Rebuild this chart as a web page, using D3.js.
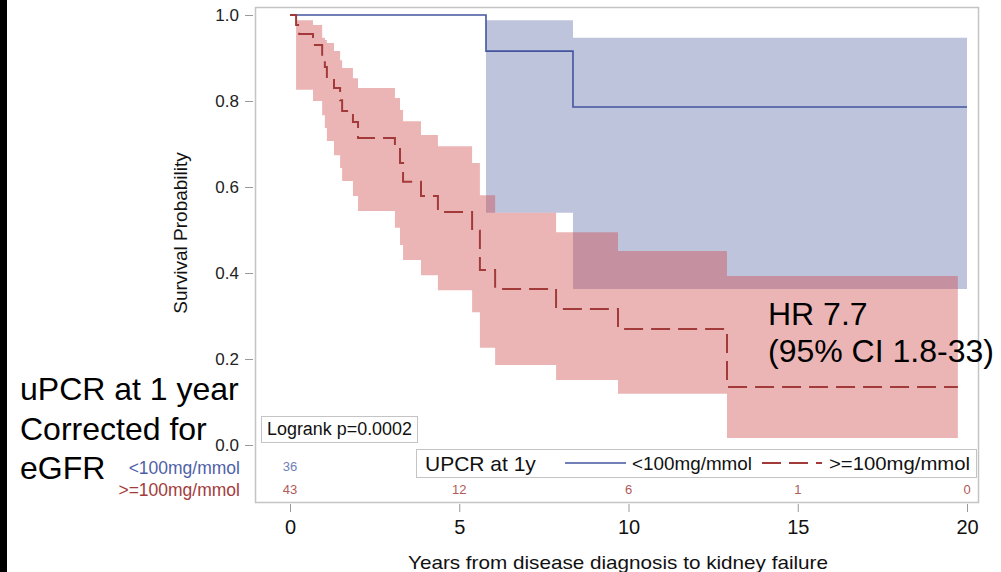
<!DOCTYPE html>
<html>
<head>
<meta charset="utf-8">
<script src="https://cdn.jsdelivr.net/npm/d3@7"></script>
<style>
body { margin: 0; background: #fff; }
svg { display: block; font-family: Arial, "Liberation Sans", sans-serif; }
</style>
</head>
<body>
<svg id="chart" width="1001" height="572"></svg>
<script>
// Kaplan-Meier steps (years, survival probability)
var blueTimes = [0, 5.79, 8.36, 20];
var blueSurv  = [1, 0.916, 0.786, 0.786];
var blueUpper = [1, 0.988, 0.947, 0.947];
var blueLower = [1, 0.540, 0.363, 0.363];

var redTimes = [0, 0.18, 0.27, 0.68, 0.95, 1.03, 1.09, 1.30, 1.48, 1.54, 1.86, 2.01,
                3.10, 3.25, 3.34, 3.87, 4.37, 5.38, 5.61, 6.06, 7.86, 9.69, 12.91, 19.73];
var redSurv  = [1, 0.977, 0.956, 0.930, 0.905, 0.879, 0.853, 0.830, 0.802, 0.777, 0.751, 0.714,
                0.691, 0.656, 0.612, 0.579, 0.542, 0.498, 0.407, 0.363, 0.316, 0.270, 0.135, 0.135];
var redUpper = [1, 0.988, 0.988, 0.977, 0.947, 0.942, 0.935, 0.916, 0.895, 0.877, 0.853, 0.830,
                0.807, 0.779, 0.753, 0.721, 0.695, 0.656, 0.581, 0.540, 0.495, 0.451, 0.393, 0.393];
var redLower = [1, 0.826, 0.826, 0.800, 0.767, 0.737, 0.707, 0.674, 0.644, 0.614, 0.579, 0.544,
                0.505, 0.465, 0.430, 0.395, 0.360, 0.309, 0.226, 0.186, 0.151, 0.119, 0.016, 0.016];

// numbers at risk
var riskYears = [0, 5, 10, 15, 20];
var blueAtRisk = ["36"];   // the rest sit under the legend box
var redAtRisk = ["43", "12", "6", "1", "0"];

var xTicks = [0, 5, 10, 15, 20];
var yTicks = [0, 0.2, 0.4, 0.6, 0.8, 1.0];

var svg = d3.select("#chart");

var x = d3.scaleLinear().domain([0, 20]).range([290, 967]);
var y = d3.scaleLinear().domain([0, 1]).range([445, 15]);

function pts(times, vals) {
    return times.map(function(t, i) { return {t: t, v: vals[i]}; });
}
function band(times, lo, hi) {
    return times.map(function(t, i) { return {t: t, lo: lo[i], hi: hi[i]}; });
}

// black strip on the left edge of the slide
svg.append("rect").attr("x", 0).attr("y", 0).attr("width", 7).attr("height", 572).attr("fill", "#000");

// frame
svg.append("rect")
    .attr("x", 255.5).attr("y", 7.5).attr("width", 723).attr("height", 495)
    .attr("fill", "#fff").attr("stroke", "#c4c4c4").attr("stroke-width", 1.5);

var area = d3.area()
    .curve(d3.curveStepAfter)
    .x(function(d) { return x(d.t); })
    .y0(function(d) { return y(d.lo); })
    .y1(function(d) { return y(d.hi); });

var line = d3.line()
    .curve(d3.curveStepAfter)
    .x(function(d) { return x(d.t); })
    .y(function(d) { return y(d.v); });

svg.append("path")
    .attr("d", area(band(blueTimes, blueLower, blueUpper)))
    .attr("fill", "#bec4dc");

svg.append("path")
    .attr("d", area(band(redTimes, redLower, redUpper)))
    .attr("fill", "rgba(207,70,70,0.4)");

svg.append("path")
    .attr("d", line(pts(blueTimes, blueSurv)))
    .attr("fill", "none").attr("stroke", "#44559f").attr("stroke-width", 1.6);

svg.append("path")
    .attr("d", line(pts(redTimes, redSurv)))
    .attr("fill", "none").attr("stroke", "#a33a3a").attr("stroke-width", 2)
    .attr("stroke-dasharray", "19,8");

// axes
var yAxis = svg.append("g")
    .attr("transform", "translate(253,0)")
    .call(d3.axisLeft(y).tickValues(yTicks).tickFormat(d3.format(".1f")).tickSize(8).tickPadding(6));
yAxis.select(".domain").remove();
yAxis.selectAll("line").attr("stroke", "#999");
yAxis.selectAll("text").attr("font-size", 17).attr("fill", "#222").attr("font-family", "Arial, 'Liberation Sans', sans-serif");

var xAxis = svg.append("g")
    .attr("transform", "translate(0,504)")
    .call(d3.axisBottom(x).tickValues(xTicks).tickSize(8).tickPadding(8));
xAxis.select(".domain").remove();
xAxis.selectAll("line").attr("stroke", "#999");
xAxis.selectAll("text").attr("font-size", 20).attr("fill", "#111").attr("font-family", "Arial, 'Liberation Sans', sans-serif");

svg.append("text")
    .attr("x", 618).attr("y", 569)
    .attr("text-anchor", "middle").attr("font-size", 19).attr("fill", "#111")
    .attr("textLength", 420).attr("lengthAdjust", "spacingAndGlyphs")
    .text("Years from disease diagnosis to kidney failure");

svg.append("text")
    .attr("transform", "translate(187,233) rotate(-90)")
    .attr("text-anchor", "middle").attr("font-size", 19).attr("fill", "#111")
    .text("Survival Probability");

// logrank box
svg.append("rect")
    .attr("x", 261.5).attr("y", 416.5).attr("width", 156).attr("height", 26)
    .attr("fill", "#fff").attr("stroke", "#c4c4c4");
svg.append("text")
    .attr("x", 267).attr("y", 435).attr("font-size", 18).attr("fill", "#111")
    .attr("textLength", 145).attr("lengthAdjust", "spacingAndGlyphs")
    .text("Logrank p=0.0002");

// at-risk rows
svg.selectAll(".riskBlue").data(blueAtRisk).enter().append("text")
    .attr("x", function(d, i) { return x(riskYears[i]); })
    .attr("y", 471).attr("text-anchor", "middle").attr("font-size", 13)
    .attr("fill", "#7080b8").text(function(d) { return d; });
svg.selectAll(".riskRed").data(redAtRisk).enter().append("text")
    .attr("x", function(d, i) { return x(riskYears[i]); })
    .attr("y", 494).attr("text-anchor", "middle").attr("font-size", 13)
    .attr("fill", "#b05a5a").text(function(d) { return d; });

svg.append("text").attr("x", 240).attr("y", 474).attr("text-anchor", "end")
    .attr("font-size", 17.5).attr("fill", "#4f5fa8").text("<100mg/mmol");
svg.append("text").attr("x", 240).attr("y", 496).attr("text-anchor", "end")
    .attr("font-size", 17.5).attr("fill", "#a33c3c").text(">=100mg/mmol");

// legend
var lg = svg.append("g");
lg.append("rect")
    .attr("x", 416.5).attr("y", 449.5).attr("width", 560).attr("height", 28)
    .attr("fill", "#fff").attr("stroke", "#c4c4c4");
lg.append("text").attr("x", 425).attr("y", 471).attr("font-size", 21).attr("fill", "#111")
    .text("UPCR at 1y");
lg.append("line").attr("x1", 565).attr("x2", 626).attr("y1", 463).attr("y2", 463)
    .attr("stroke", "#44559f").attr("stroke-width", 1.6);
lg.append("text").attr("x", 632).attr("y", 470).attr("font-size", 19).attr("fill", "#111")
    .attr("textLength", 120).attr("lengthAdjust", "spacingAndGlyphs")
    .text("<100mg/mmol");
lg.append("line").attr("x1", 762).attr("x2", 822).attr("y1", 463).attr("y2", 463)
    .attr("stroke", "#a33a3a").attr("stroke-width", 2).attr("stroke-dasharray", "19,8");
lg.append("text").attr("x", 829).attr("y", 470).attr("font-size", 19).attr("fill", "#111")
    .attr("textLength", 141).attr("lengthAdjust", "spacingAndGlyphs")
    .text(">=100mg/mmol");

// slide annotations
var notes = ["uPCR at 1 year", "Corrected for", "eGFR"];
svg.selectAll(".note").data(notes).enter().append("text")
    .attr("x", 20).attr("y", function(d, i) { return 400 + i * 39.5; })
    .attr("font-size", 32).attr("fill", "#000").text(function(d) { return d; });

svg.append("text").attr("x", 768).attr("y", 325).attr("font-size", 32).attr("fill", "#000").text("HR 7.7");
svg.append("text").attr("x", 768).attr("y", 362).attr("font-size", 32).attr("fill", "#000").text("(95% CI 1.8-33)");
</script>
</body>
</html>
